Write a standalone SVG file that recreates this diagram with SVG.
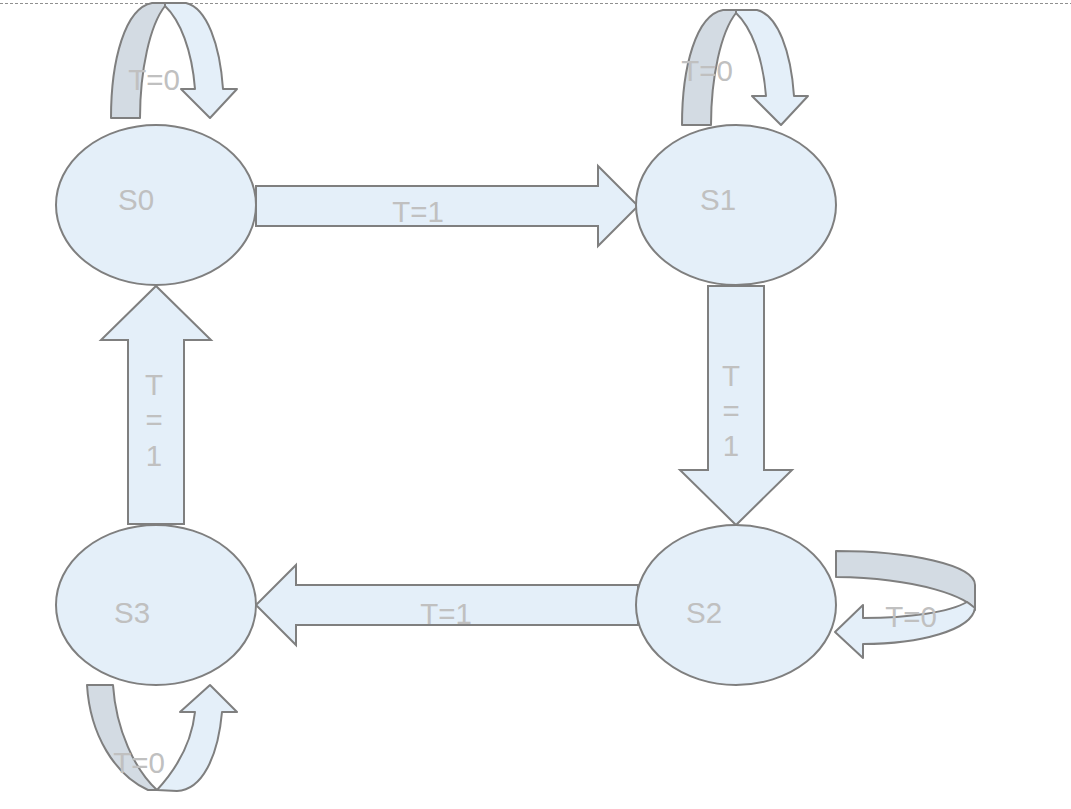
<svg xmlns="http://www.w3.org/2000/svg" width="1071" height="809" viewBox="0 0 1071 809">
  <style>
    .state { fill: #e4eff9; stroke: #7f7f7f; stroke-width: 2; }
    .arrow { fill: #e4eff9; stroke: #7f7f7f; stroke-width: 2; stroke-linejoin: miter; }
    .back { fill: #d3dbe3; stroke: #7f7f7f; stroke-width: 2; stroke-linejoin: round; }
    .front { fill: #e4eff9; stroke: #7f7f7f; stroke-width: 2; stroke-linejoin: round; }
    .lbl { font-family: "Liberation Sans", Arial, sans-serif; font-size: 29.5px; fill: #c0c0c0; text-anchor: middle; }
  </style>
  <defs>
    <!-- self-loop curling over the top of a state -->
    <g id="loopTop">
      <path class="back" d="M111,118 C111,60 125,8 152,3 L165,3 L165,6 C150,25 140,70 140,118 Z"/>
      <path class="front" d="M165,3 L186,3 C207,8 220,45 223,89 L237,89 L210,118 L181,89 L195,89 C192,50 180,20 165,6 Z"/>
    </g>
  </defs>

  <rect width="1071" height="809" fill="#ffffff"/>
  <line x1="0" y1="3.5" x2="1071" y2="3.5" stroke="#909090" stroke-width="1" stroke-dasharray="3 2"/>

  <g id="connectors">
    <!-- S0 -> S1 -->
    <path class="arrow" d="M256,186 L598,186 L598,166 L638,206 L598,246 L598,226 L256,226 Z"/>
    <!-- S1 -> S2 -->
    <path class="arrow" d="M708,286 L764,286 L764,470 L792,470 L736,525 L680,470 L708,470 Z"/>
    <!-- S2 -> S3 -->
    <path class="arrow" d="M638,585 L296,585 L296,565 L256,605 L296,645 L296,625 L638,625 Z"/>
    <!-- S3 -> S0 -->
    <path class="arrow" d="M128,524 L128,340 L101,340 L156,286 L211,340 L184,340 L184,524 Z"/>

    <!-- self-loops -->
    <use href="#loopTop"/>
    <use href="#loopTop" transform="translate(571,7)"/>
    <g id="loopS2">
      <path class="back" d="M836,551 C910,551 975,565 975,585 L975,610 C970,598 920,578 836,577 Z"/>
      <path class="front" d="M975,608 C972,630 920,644 863,644 L863,658 L835,632 L863,605 L863,618 C910,618 950,612 967,602 Z"/>
    </g>
    <g id="loopS3">
      <path class="back" d="M87,685 L113,685 C116,730 135,770 157,790 L148,790 C115,775 90,735 87,685 Z"/>
      <path class="front" d="M157,790 C180,765 192,740 195,712 L180,712 L210,685 L237,712 L222,712 C218,757 202,790 177,791 Z"/>
    </g>

    <text class="lbl" x="418" y="222">T=1</text>
    <text class="lbl" x="446" y="624">T=1</text>
    <text class="lbl" x="731" y="386">T</text>
    <text class="lbl" x="731" y="421">=</text>
    <text class="lbl" x="731" y="456">1</text>
    <text class="lbl" x="154" y="395">T</text>
    <text class="lbl" x="154" y="430">=</text>
    <text class="lbl" x="154" y="466">1</text>
    <text class="lbl" x="154" y="90">T=0</text>
    <text class="lbl" x="707" y="81">T=0</text>
    <text class="lbl" x="911" y="627">T=0</text>
    <text class="lbl" x="139" y="773">T=0</text>
  </g>

  <g id="S0">
    <ellipse class="state" cx="156" cy="205" rx="100" ry="80"/>
    <text class="lbl" x="136" y="210">S0</text>
  </g>
  <g id="S1">
    <ellipse class="state" cx="736" cy="205" rx="100" ry="80"/>
    <text class="lbl" x="718" y="210">S1</text>
  </g>
  <g id="S2">
    <ellipse class="state" cx="736" cy="605" rx="100" ry="80"/>
    <text class="lbl" x="704" y="623">S2</text>
  </g>
  <g id="S3">
    <ellipse class="state" cx="156" cy="605" rx="100" ry="80"/>
    <text class="lbl" x="132" y="623">S3</text>
  </g>
</svg>
